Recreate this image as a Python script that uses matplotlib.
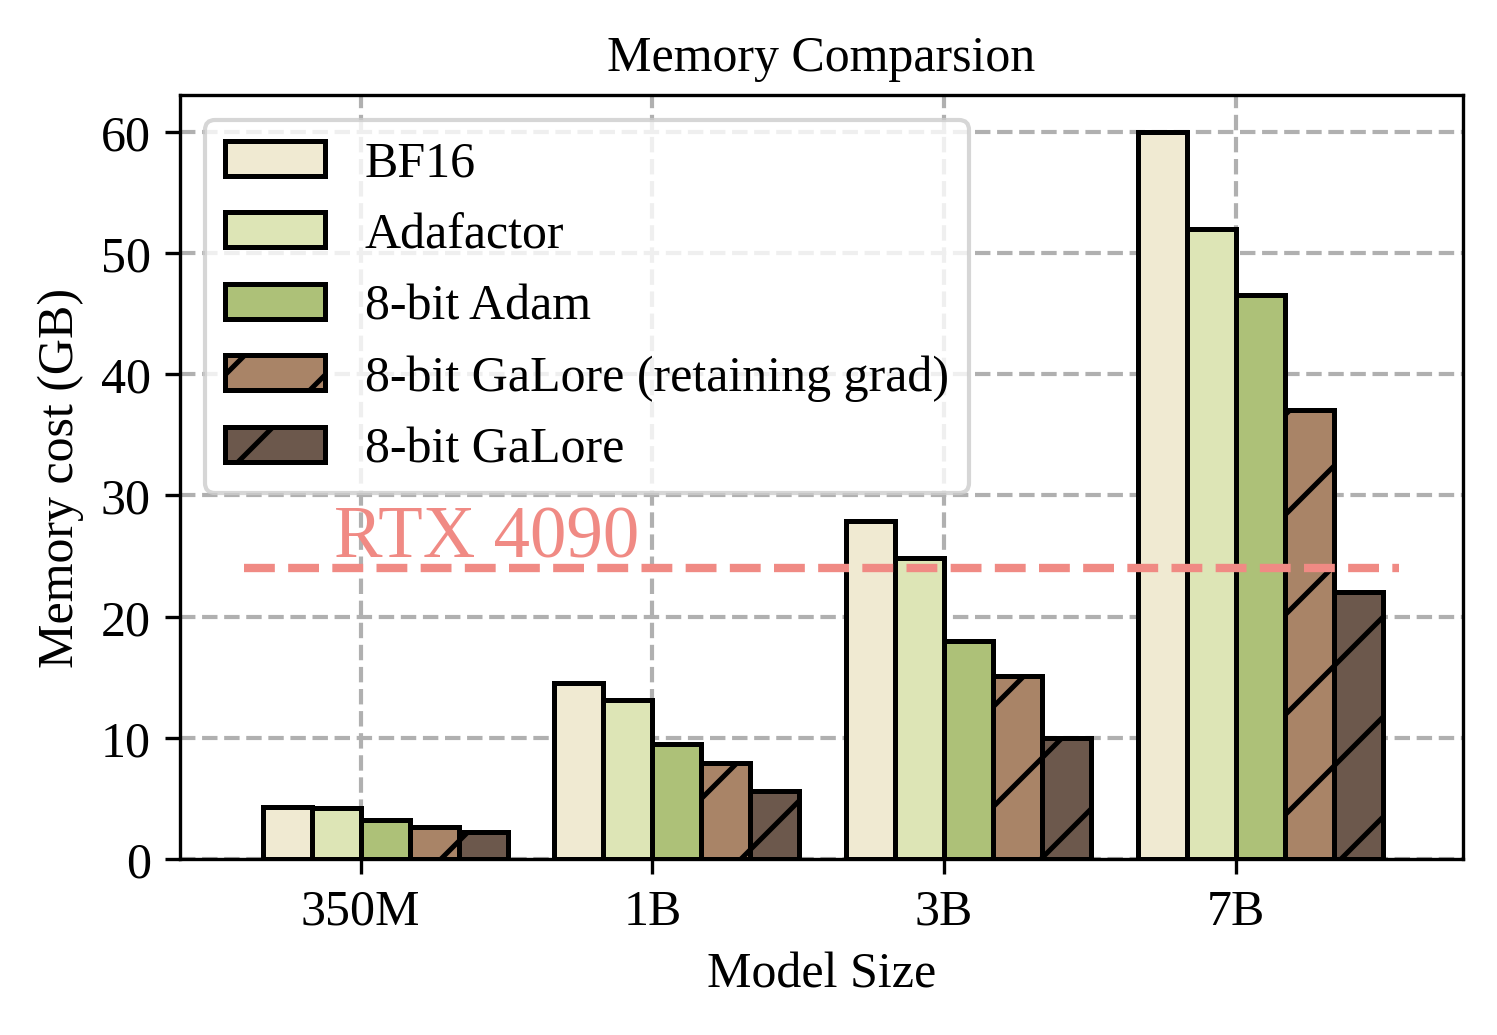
import numpy as np
import matplotlib
matplotlib.use("Agg")
import matplotlib.pyplot as plt

# ----------------------------- DATA -----------------------------
model_sizes = ["350M", "1B", "3B", "7B"]
methods = ["BF16", "Adafactor", "8-bit Adam",
           "8-bit GaLore (retaining grad)", "8-bit GaLore"]

bf16 = [4.3, 14.5, 27.9, 60.0]
adafactor = [4.2, 13.1, 24.8, 52.0]
adam_8bit = [3.2, 9.5, 18.0, 46.5]
galore_retain = [2.6, 7.9, 15.1, 37.0]
galore_8bit = [2.2, 5.6, 10.0, 22.0]

rtx4090_mem = 24

colors = ["#F0EAD2", "#DDE5B6", "#ADC178", "#A98467", "#6C584C"]
hatches = ["", "", "", "/", "/"]

# ----------------------------- PLOT -----------------------------
plt.rcParams["font.family"] = ["Liberation Serif", "DejaVu Serif"]
plt.rcParams["font.size"] = 12
plt.rcParams["hatch.linewidth"] = 1.2

fig, ax = plt.subplots(figsize=(4.99, 3.453), dpi=300)
fig.subplots_adjust(left=0.1202, right=0.9773, top=0.9073, bottom=0.1699)

x = np.arange(len(model_sizes))
w = 0.168
series = [bf16, adafactor, adam_8bit, galore_retain, galore_8bit]
for i, (vals, name) in enumerate(zip(series, methods)):
    ax.bar(x + (i - 2) * w, vals, width=w, align="edge", color=colors[i],
           edgecolor="black", linewidth=1.2, hatch=hatches[i], label=name)

# GPU memory budget
ax.axhline(rtx4090_mem, xmin=0.05, xmax=0.95, color="#F08A84",
           linestyle="--", linewidth=2)
ax.text(-0.09, rtx4090_mem + 0.9, "RTX 4090", color="#F08A84", fontsize=17.5)

ax.set_axisbelow(True)
ax.grid(True, linestyle="--", color="#b0b0b0", linewidth=1)
ax.set_xticks(x)
ax.set_xticklabels(model_sizes)
ax.set_xlim(-0.62, 3.78)
ax.set_ylim(0, 63)
ax.set_xlabel("Model Size")
ax.set_ylabel("Memory cost (GB)")
ax.set_title("Memory Comparsion", fontsize=12)
ax.legend(loc="upper left")

fig.savefig("out.png", dpi=300)
